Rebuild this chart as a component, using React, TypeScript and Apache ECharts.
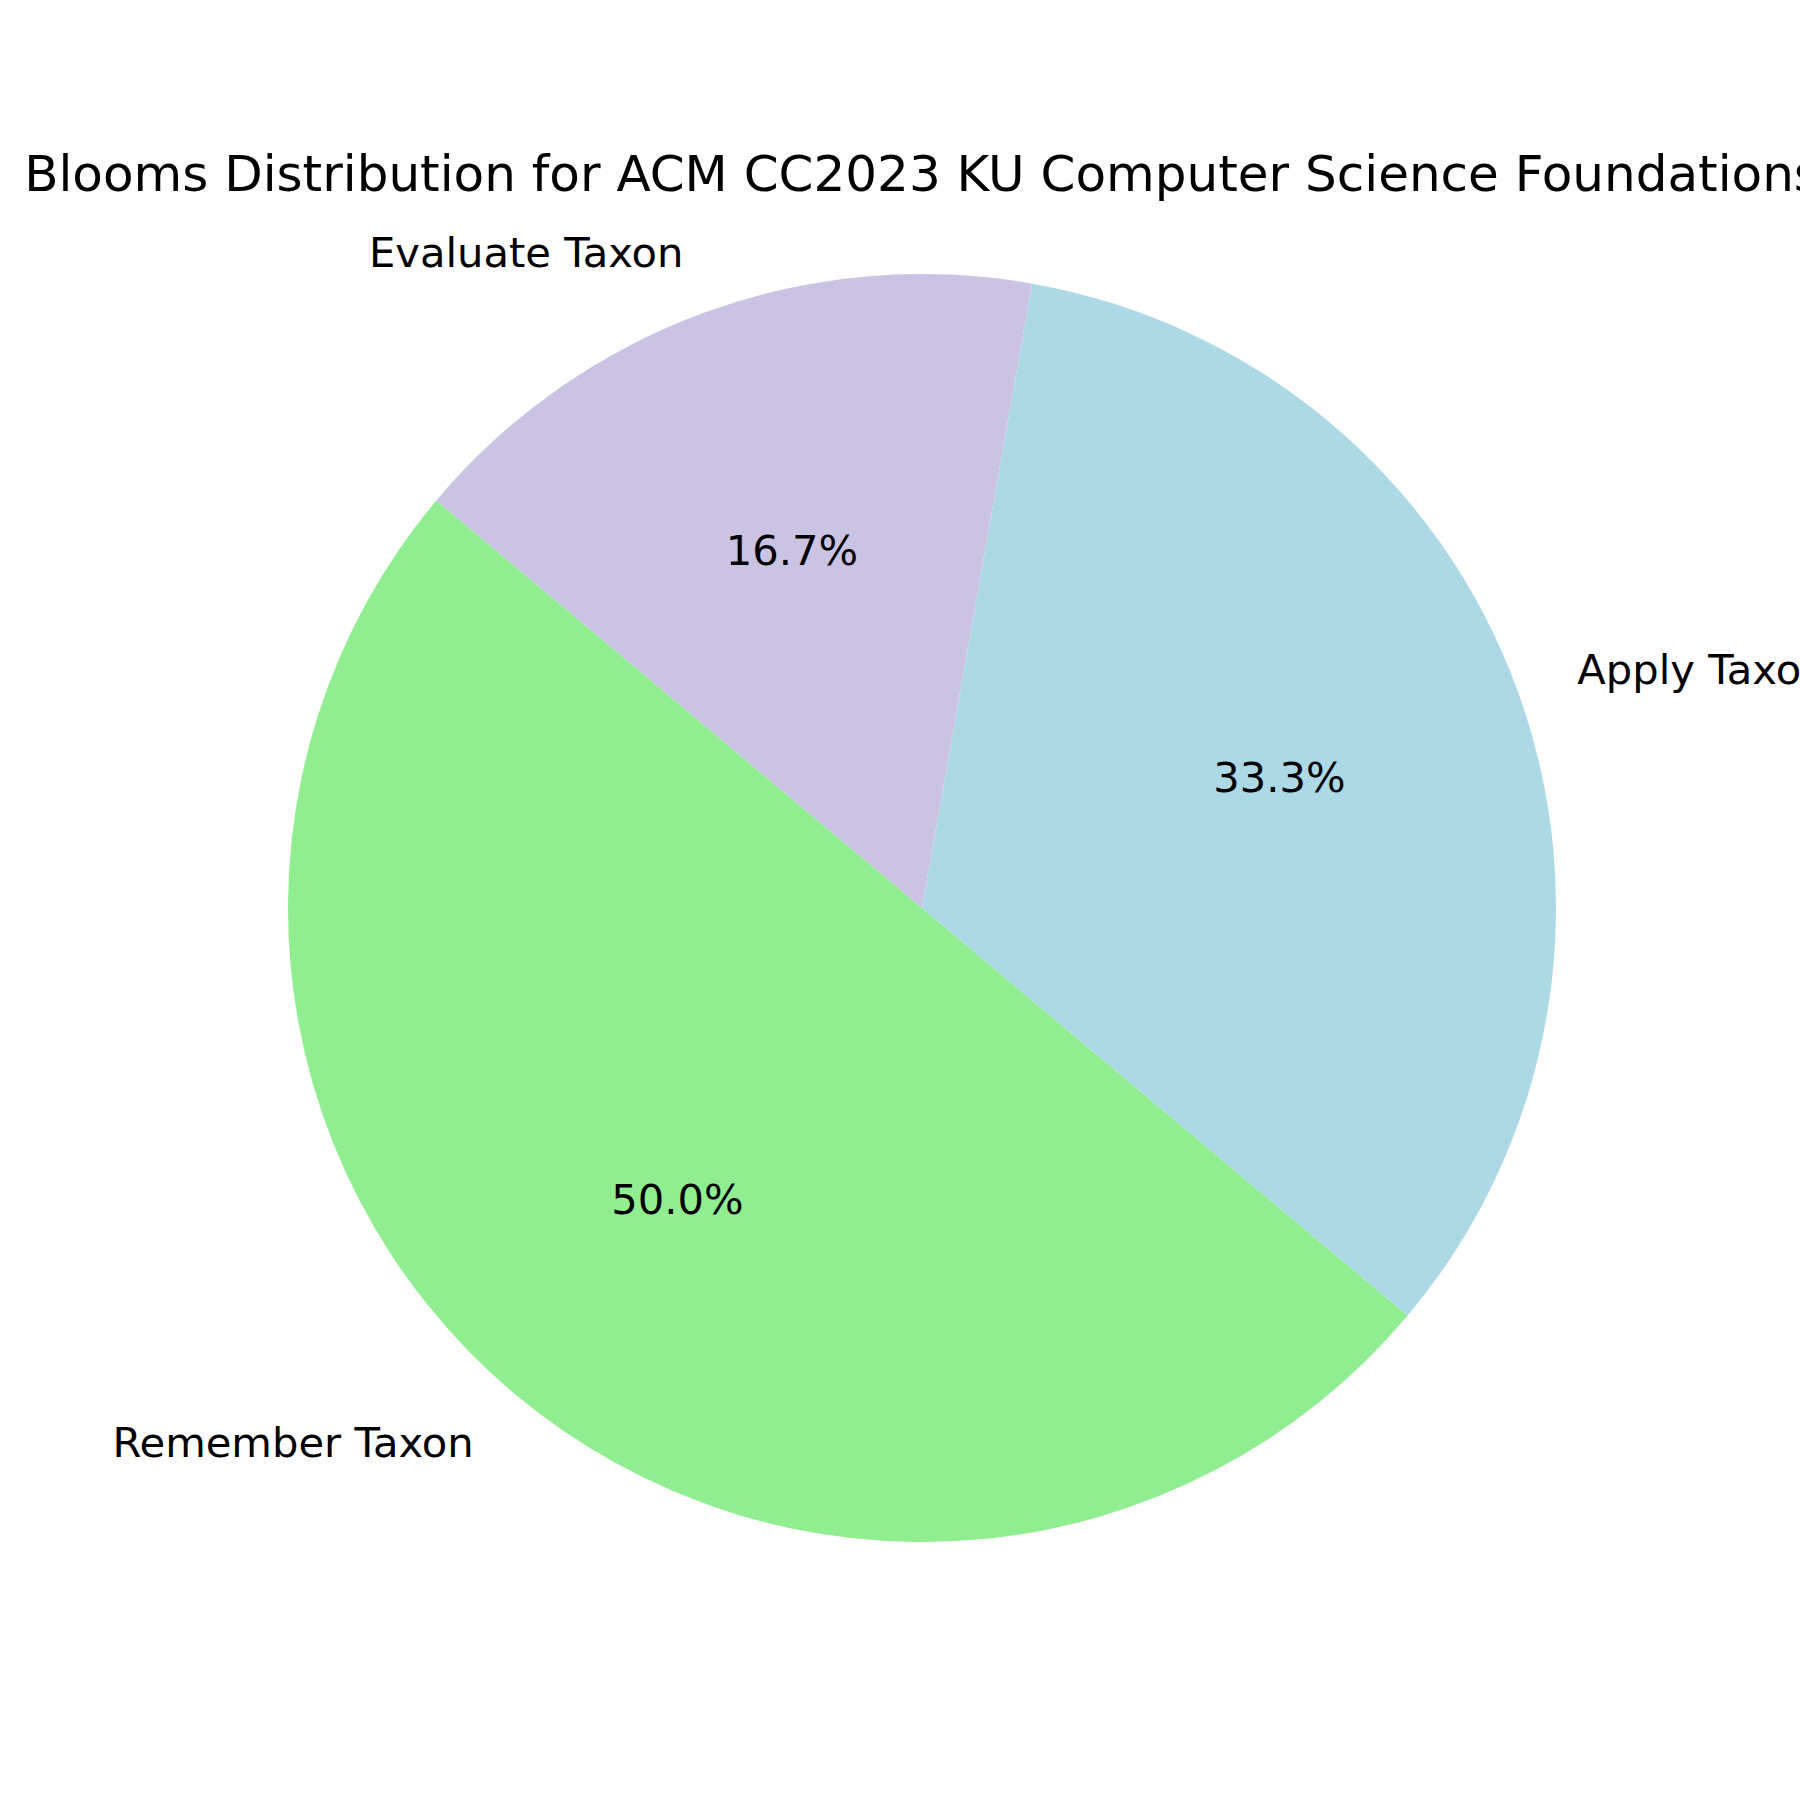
import React, { useEffect, useRef } from "react";
import * as echarts from "echarts";

const TITLE = "Blooms Distribution for ACM CC2023 KU Computer Science Foundations";
const categories = ["Remember Taxon", "Apply Taxon", "Evaluate Taxon"];
const values = [3, 2, 1];
const colors = ["#90EE90", "#ADD8E6", "#CBC3E3"];

const CX = 922;
const CY = 908;
const R = 634;
const FONT = "DejaVu Sans";
const LABEL_SIZE = 41.67;
const TITLE_SIZE = 50;

export default function App() {
  const ref = useRef<HTMLDivElement>(null);

  useEffect(() => {
    document.body.style.margin = "0";
    if (!ref.current) return;
    const chart = echarts.init(ref.current, null, { renderer: "svg" });
    const total = values.reduce((a, b) => a + b, 0);
    const data = categories.map((name, i) => ({
      name,
      value: values[i],
      itemStyle: { color: colors[i] },
    }));
    const overlayData = categories.map((name, i) => ({
      name,
      value: values[i],
      itemStyle: { color: "rgba(0,0,0,0)" },
    }));

    chart.setOption({
      animation: false,
      backgroundColor: "#ffffff",
      graphic: [
        {
          type: "text",
          x: CX,
          y: 174,
          style: {
            text: TITLE,
            fontFamily: FONT,
            fontSize: TITLE_SIZE,
            fill: "#000000",
            align: "center",
            verticalAlign: "middle",
          },
        },
      ],
      series: [
        {
          type: "pie",
          center: [CX, CY],
          radius: [0, R],
          startAngle: 140,
          clockwise: false,
          avoidLabelOverlap: false,
          silent: true,
          emphasis: { disabled: true },
          data,
          label: {
            show: true,
            position: "outside",
            formatter: "{b}",
            fontFamily: FONT,
            fontSize: LABEL_SIZE,
            color: "#000000",
            distanceToLabelLine: 0,
          },
          labelLine: { show: false, length: R * 0.1, length2: 0 },
          itemStyle: { borderWidth: 0 },
        },
        {
          type: "pie",
          center: [CX, CY],
          radius: [0, R * 1.2 - 6],
          startAngle: 140,
          clockwise: false,
          avoidLabelOverlap: false,
          silent: true,
          emphasis: { disabled: true },
          data: overlayData,
          label: {
            show: true,
            position: "inside",
            formatter: (p: any) => ((p.value / total) * 100).toFixed(1) + "%",
            fontFamily: FONT,
            fontSize: LABEL_SIZE,
            color: "#000000",
          },
          labelLine: { show: false },
          itemStyle: { borderWidth: 0 },
        },
      ],
    });
    return () => chart.dispose();
  }, []);

  return (
    <div
      ref={ref}
      style={{ position: "absolute", left: 0, top: 0, width: 1800, height: 1800 }}
    />
  );
}
